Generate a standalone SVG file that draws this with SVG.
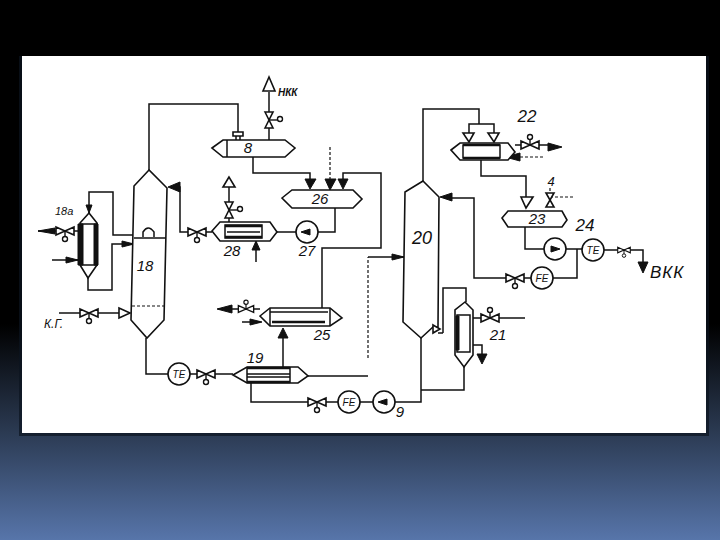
<svg xmlns="http://www.w3.org/2000/svg" width="720" height="540" viewBox="0 0 720 540">
<defs>
<linearGradient id="bg" x1="0" y1="0" x2="0" y2="1"><stop offset="0" stop-color="#000"/><stop offset="0.6" stop-color="#000"/><stop offset="0.8" stop-color="#2b3a52"/><stop offset="1" stop-color="#5775aa"/></linearGradient>
<g id="vb"><path d="M-9,-4 L0,0 L-9,4 Z M9,-4 L0,0 L9,4 Z" fill="#fff" stroke="#111" stroke-width="1.6"/><path d="M0,0 V6" stroke="#111" stroke-width="1.4"/><circle cx="0" cy="8" r="2.5" fill="#fff" stroke="#111" stroke-width="1.4"/></g>
<g id="vt"><path d="M-4,-8 L0,0 L4,-8 Z M-4,8 L0,0 L4,8 Z" fill="#fff" stroke="#111" stroke-width="1.6"/><path d="M0,0 H8" stroke="#111" stroke-width="1.4"/><circle cx="11" cy="-1" r="2.5" fill="#fff" stroke="#111" stroke-width="1.4"/></g>
</defs>
<style>
.l{fill:none;stroke:#111;stroke-width:1.5}
.d{fill:none;stroke:#111;stroke-width:1.2;stroke-dasharray:3 2}
.s{fill:#fff;stroke:#111;stroke-width:1.6}
.k{fill:#111;stroke:#111;stroke-width:1}
.h{fill:none;stroke:#111;stroke-width:2.5}
.w{fill:#fff;stroke:#111;stroke-width:1.6}
text{font-family:"Liberation Sans",sans-serif;font-style:italic;fill:#111}
.t{font-size:15px;text-anchor:middle}
.m{font-size:10px;text-anchor:middle}
</style>
<rect width="720" height="540" fill="url(#bg)"/>
<rect x="19" y="56" width="690" height="380" fill="#0b1420" opacity="0.7"/>
<rect x="22" y="56" width="684" height="377" fill="#fff"/>
<g id="connectors">
<path class="l" d="M149,170V104H238V132"/>
<path class="l" d="M269,140V92"/>
<path class="l" d="M253,157V173H310V182"/>
<path class="d" d="M330,147V182"/>
<path class="l" d="M343,182V173H381V248H322V308"/>
<path class="l" d="M335,208V232H277"/>
<path class="l" d="M229,222V187"/>
<path class="l" d="M256,262V242"/>
<path class="l" d="M212,232H180V187H172"/>
<path class="l" d="M89,213V192H113V235H134"/>
<path class="l" d="M134,244H112V290H88V278"/>
<path class="l" d="M38,231H80"/>
<path class="l" d="M52,260H78"/>
<path class="l" d="M59,313H119"/>
<path class="l" d="M146,338V374H233"/>
<path class="l" d="M308,376H368"/>
<path class="d" d="M368,358V257"/>
<path class="l" d="M368,257H404"/>
<path class="l" d="M283,367V330"/>
<path class="l" d="M218,309H260"/>
<path class="l" d="M242,322H260"/>
<path class="l" d="M251,383V402H338"/>
<path class="l" d="M338,402H421V338"/>
<path class="l" d="M421,390H464V367"/>
<path class="l" d="M443,333V288H466V302"/>
<path class="l" d="M443,333H438"/>
<path class="l" d="M473,318H525"/>
<path class="l" d="M473,345H482V358"/>
<path class="l" d="M423,181V109H479V124"/>
<path class="l" d="M469,134V124H494V134"/>
<path class="l" d="M515,145H552"/>
<path class="d" d="M510,157H543"/>
<path class="l" d="M481,160V176H526V200"/>
<path class="d" d="M550,197H573"/>
<path class="d" d="M550,188V193"/>
<path class="l" d="M525,227V249H593"/>
<path class="l" d="M593,250H643V265"/>
<path class="l" d="M577,249V278H542"/>
<path class="l" d="M542,278H474V198H445"/>
<path class="k" d="M168,187L180,182V192Z"/>
<path class="k" d="M305,179H316L310,189Z"/>
<path class="k" d="M325,179H336L330,190Z"/>
<path class="k" d="M338,179H348L343,189Z"/>
<path class="k" d="M283,328L278,338H288Z"/>
<path class="k" d="M217,309L232,305V313Z"/>
<path class="k" d="M262,322L250,319V325Z"/>
<path class="k" d="M256,241L252,250H260Z"/>
<path class="k" d="M38,231L55,228V234Z"/>
<path class="k" d="M78,260L66,257V263Z"/>
<path class="k" d="M134,244L122,241V247Z"/>
<path class="k" d="M404,257L392,254V260Z"/>
<path class="k" d="M440,197L452,193V201Z"/>
<path class="k" d="M562,147L548,143V151Z"/>
<path class="k" d="M505,157L520,153V161Z"/>
<path class="k" d="M643,273L638,262H648Z"/>
<path class="k" d="M482,364L477,354H487Z"/>
<path class="k" d="M89,213L86,205H92Z"/>
<path class="s" d="M269,77L263,91H275Z"/>
<path class="s" d="M229,177L223,187H235Z"/>
<path class="s" d="M119,308L130,313L119,318Z"/>
<path class="s" d="M463,133H474L469,142Z"/>
<path class="s" d="M488,133H499L494,142Z"/>
<path class="s" d="M521,197H533L526,208Z"/>
</g>
<g id="n8"><path class="s" d="M212,148L223,140H285L295,148L285,157H223Z"/><path class="l" d="M227,140V157"/><path class="s" d="M233,132H243V136H233Z"/><path class="l" d="M236,136V140M240,136V140"/><text class="t" x="248" y="153">8</text></g>
<g id="n26"><path class="s" d="M282,198L292,190H353L362,199L353,208H292Z"/><text class="t" x="320" y="204">26</text></g>
<g id="n18"><path class="s" d="M149,170L134,186L131,320L147,338L164,320L167,188Z"/><path class="l" d="M134,238H166"/><path class="l" d="M143,237V232Q148,224 154,232V237"/><path class="d" d="M132,306H165"/><text class="t" x="145" y="271">18</text></g>
<g id="n18a"><path class="s" d="M89,213L80,223V265L88,278L97,265V223Z"/><path class="k" d="M78,224H83V265H78ZM94,224H98V265H94Z"/><path class="l" d="M80,224H98M80,265H98"/><text x="55" y="215" style="font-size:11px">18а</text></g>
<g id="n28"><path class="s" d="M212,231L220,222H270L277,232L270,241H220Z"/><rect class="l" x="225" y="225" width="37" height="13"/><path class="h" d="M225,226H262M225,237H262"/><path class="l" d="M227,232H260"/><text class="t" x="232" y="256">28</text></g>
<g id="n27"><circle class="w" cx="307" cy="232" r="11"/><path class="k" d="M301,232L310,229V235Z"/><text class="t" x="307" y="256">27</text></g>
<g id="n19"><path class="s" d="M233,375L247,367H298L308,376L298,383H247Z"/><path class="l" d="M247,367V383M290,367V383"/><path class="h" d="M247,368H290M247,382H290"/><path class="l" d="M247,374H290M247,377H290"/><text class="t" x="255" y="363">19</text></g>
<g id="n25"><path class="s" d="M260,316L270,308H330L342,318L330,326H270Z"/><path class="l" d="M270,308V326M330,308V326M270,312H328"/><path class="h" d="M272,322H325"/><text class="t" x="322" y="340">25</text></g>
<g id="n20"><path class="s" d="M423,181L405,192L403,322L421,338L433,327L438,327L439,197Z"/><path class="s" d="M433,325L440,329L433,333Z"/><text class="t" style="font-size:18px" x="422" y="244">20</text></g>
<g id="n21"><path class="s" d="M465,302L455,310V355L464,367L473,355V310Z"/><rect class="l" x="457" y="315" width="13" height="37"/><path class="k" d="M456,316H459V350H456Z"/><text class="t" x="498" y="340">21</text></g>
<g id="n22"><path class="s" d="M451,150L460,143H508L515,152L508,160H460Z"/><rect class="l" x="463" y="145" width="37" height="13"/><path class="h" d="M463,145H500M463,158H500"/><text class="t" x="527" y="122" style="font-size:17px">22</text></g>
<g id="n23"><path class="s" d="M502,218L508,211H562L567,220L562,227H508Z"/><text class="t" x="537" y="224">23</text></g>
<g id="n24"><circle class="w" cx="555" cy="249" r="11"/><path class="k" d="M551,246L560,249L551,252Z"/><text class="t" x="585" y="231" style="font-size:17px">24</text></g>
<g id="n9"><circle class="w" cx="384" cy="402" r="11"/><path class="k" d="M378,402L387,399V405Z"/><text class="t" x="400" y="417" style="font-size:15px">9</text></g>
<g id="instruments">
<circle class="w" cx="179" cy="374" r="11"/><text class="m" x="179" y="378">ТЕ</text>
<circle class="w" cx="349" cy="402" r="11"/><text class="m" x="349" y="406">FE</text>
<circle class="w" cx="542" cy="278" r="11"/><text class="m" x="542" y="282">FE</text>
<circle class="w" cx="593" cy="250" r="11"/><text class="m" x="593" y="254">ТЕ</text>
</g>
<g id="valves">
<use href="#vt" x="269" y="120"/>
<use href="#vt" x="229" y="210"/>
<use href="#vb" x="197" y="232"/>
<use href="#vb" x="65" y="231"/>
<use href="#vb" x="89" y="313"/>
<use href="#vb" x="206" y="374"/>
<use href="#vb" x="317" y="402"/>
<use href="#vb" x="515" y="278"/>
<use href="#vb" x="624" y="250" transform="translate(624 250) scale(.7) translate(-624 -250)"/>
<use href="#vb" x="490" y="318" transform="rotate(180 490 318)"/>
<use href="#vb" x="530" y="145" transform="rotate(180 530 145)"/>
<use href="#vb" x="246" y="309" transform="rotate(180 246 309) translate(246 309) scale(.85) translate(-246 -309)"/>
<path class="s" d="M546,193H554L550,200L554,207H546L550,200Z"/>
</g>
<g id="labels">
<text x="278" y="96" style="font-size:10px;font-weight:bold">НКК</text>
<text x="44" y="328" style="font-size:12px">К.Г.</text>
<text x="650" y="278" style="font-size:17px;letter-spacing:1px">ВКК</text>
<text class="t" x="551" y="186" style="font-size:13px">4</text>
</g>
</svg>
